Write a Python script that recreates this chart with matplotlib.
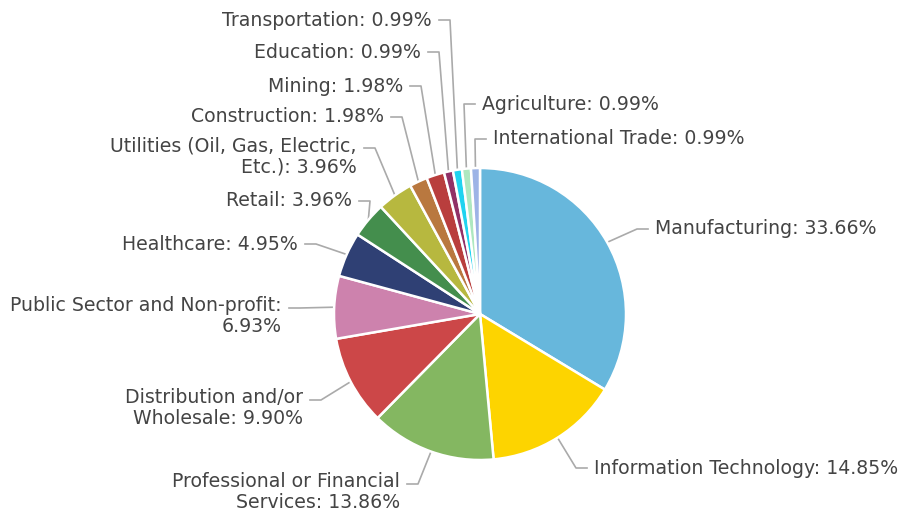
import numpy as np
import matplotlib.pyplot as plt

# ==== Données ====
secteurs = ["Manufacturing", "Information Technology", "Professional or Financial\nServices",
            "Distribution and/or\nWholesale", "Public Sector and Non-profit:\n", "Healthcare",
            "Retail", "Utilities (Oil, Gas, Electric,\nEtc.)", "Construction", "Mining",
            "Education", "Transportation", "Agriculture", "International Trade"]
parts = [33.66, 14.85, 13.86, 9.90, 6.93, 4.95, 3.96, 3.96, 1.98, 1.98, 0.99, 0.99, 0.99, 0.99]
couleurs = ["#67b7dc", "#fdd400", "#84b761", "#cc4748", "#cd82ad", "#2f4074", "#448e4d",
            "#b7b83f", "#b9783f", "#b93e3d", "#913167", "#1fd3f0", "#aee8c0", "#9db3e6"]

# position des étiquettes (pixels, y vers le bas) et côté
lab_x = [655, 594, 400, 303, 282, 298, 352, 357, 384, 403, 421, 432, 482, 493]
lab_y = [229, 468, 484, 400, 308, 244, 201, 148, 117, 86, 52, 20, 104, 139]
cote = [1, 1, -1, -1, -1, -1, -1, -1, -1, -1, -1, -1, 1, 1]   # 1 = texte à droite

W, H = 906, 515
cx, cy, R = 480, 314, 146

fig = plt.figure(figsize=(W / 100, H / 100), dpi=100)
ax = fig.add_axes([0, 0, 1, 1])

wedges, _ = ax.pie(parts, colors=couleurs, center=(cx, H - cy), radius=R,
                   startangle=90, counterclock=False,
                   wedgeprops=dict(edgecolor='white', linewidth=1.8))
ax.set_xlim(0, W)
ax.set_ylim(0, H)
ax.set_aspect('equal')
ax.axis('off')

cum = np.cumsum(parts) - np.array(parts) / 2
for i, nom in enumerate(secteurs):
    ang = np.deg2rad(90 - cum[i] / sum(parts) * 360)
    px, py = cx + R * np.cos(ang), (H - cy) + R * np.sin(ang)
    ty = H - lab_y[i]
    s = cote[i]
    x_fin = lab_x[i] - s * 7
    x_coude = lab_x[i] - s * 18
    ax.plot([px, x_coude, x_fin], [py, ty, ty], color='#aaaaaa', lw=1.2, zorder=0)
    if nom.endswith(':\n'):
        txt = f"{nom}{parts[i]:.2f}%"
    else:
        txt = f"{nom}: {parts[i]:.2f}%"
    ha = 'left' if s == 1 else 'right'
    if '\n' in txt:
        ax.text(lab_x[i], ty + 12, txt, ha=ha, va='top', multialignment=ha,
                fontsize=13.6, color='#444444', linespacing=1.15)
    else:
        ax.text(lab_x[i], ty, txt, ha=ha, va='center', fontsize=13.6, color='#444444')

fig.savefig('out.png', dpi=100)
